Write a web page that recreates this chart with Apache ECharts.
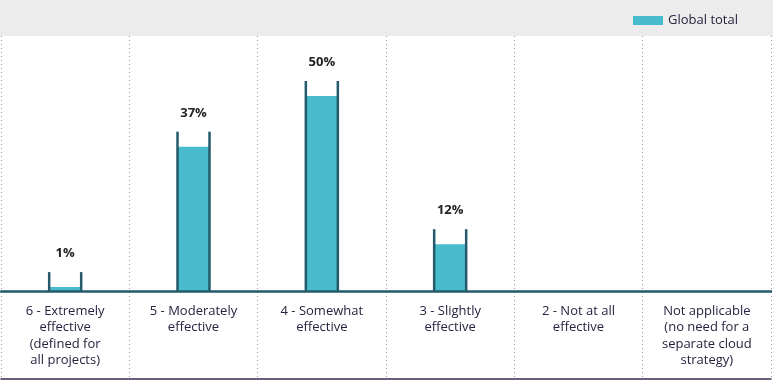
<!DOCTYPE html>
<html>
<head>
<meta charset="utf-8">
<script src="https://cdn.jsdelivr.net/npm/echarts@6/dist/echarts.min.js"></script>
<style>
html,body{margin:0;padding:0;background:#fff;}
#chart{width:773px;height:381px;}
</style>
</head>
<body>
<div id="chart"></div>
<script>
var categories = [
  '6 - Extremely\neffective\n(defined for\nall projects)',
  '5 - Moderately\neffective',
  '4 - Somewhat\neffective',
  '3 - Slightly\neffective',
  '2 - Not at all\neffective',
  'Not applicable\n(no need for a\nseparate cloud\nstrategy)'
];
var seriesName = 'Global total';
var globalTotal = [1, 37, 50, 12, 0, 0];

var FONT = "'Open Sans', 'DejaVu Sans', sans-serif";
var CUP = '#245a6a';
var FILL = '#48bccd';
var TEXT = '#2a2140';

var chart = echarts.init(document.getElementById('chart'), null, {renderer: 'canvas'});
chart.setOption({
  animation: false,
  backgroundColor: '#ffffff',
  graphic: [{
    type: 'rect', left: 0, top: 0, z: -10,
    shape: {width: 773, height: 36},
    style: {fill: '#ececec'}
  }],
  legend: {
    data: [seriesName],
    right: 30, top: 9,
    itemWidth: 30, itemHeight: 9,
    icon: 'rect',
    textStyle: {fontFamily: FONT, fontSize: 13, color: TEXT},
    itemGap: 5
  },
  grid: [
    {left: 1, right: 2, top: 36, bottom: 90, containLabel: false, outerBoundsMode: 'none'},
    {left: 1, right: 2, top: 36, bottom: 2, containLabel: false, outerBoundsMode: 'none'}
  ],
  xAxis: [{
    type: 'category',
    gridIndex: 0,
    data: categories,
    boundaryGap: true,
    axisLine: {show: true, onZero: false, lineStyle: {color: CUP, width: 2.5}},
    axisTick: {show: false},
    splitLine: {show: false},
    axisLabel: {
      interval: 0, margin: 12,
      fontFamily: FONT, fontSize: 13, lineHeight: 16.5, color: TEXT, align: 'center'
    },
    z: 5
  }, {
    type: 'category',
    gridIndex: 1,
    data: categories,
    boundaryGap: true,
    position: 'bottom',
    axisLine: {show: true, onZero: false, lineStyle: {color: '#3b2a4c', width: 1.5}},
    axisTick: {show: false},
    axisLabel: {show: false},
    splitLine: {show: true, interval: 0, lineStyle: {color: '#9a94ad', type: [1, 3], width: 1}},
    z: 0
  }],
  yAxis: [{
    type: 'value', gridIndex: 0, min: 0, max: 65.38, show: false,
    splitLine: {show: false}
  }, {
    type: 'value', gridIndex: 1, min: 0, max: 1, show: false,
    splitLine: {show: false}
  }],
  series: [{
    name: seriesName,
    type: 'bar',
    data: globalTotal,
    barWidth: 32,
    itemStyle: {color: FILL},
    label: {
      show: true, position: 'top', distance: 27,
      fontFamily: FONT, fontSize: 13, fontWeight: 'bold', color: '#222222',
      formatter: function (p) { return p.value ? p.value + '%' : ''; }
    },
    z: 2
  }, {
    name: 'cup',
    type: 'custom',
    data: globalTotal,
    z: 3,
    renderItem: function (params, api) {
      var v = api.value(1);
      if (!v) return null;
      var idx = api.value(0);
      var base = api.coord([idx, 0]);
      var top = api.coord([idx, v]);
      var yTop = top[1] - 15;
      var half = 16;
      var st = {stroke: CUP, lineWidth: 2.5};
      return {
        type: 'group',
        children: [
          {type: 'line', shape: {x1: base[0] - half, y1: base[1], x2: base[0] - half, y2: yTop}, style: st},
          {type: 'line', shape: {x1: base[0] + half, y1: base[1], x2: base[0] + half, y2: yTop}, style: st}
        ]
      };
    },
    encode: {x: 0, y: 1}
  }]
});
</script>
</body>
</html>
